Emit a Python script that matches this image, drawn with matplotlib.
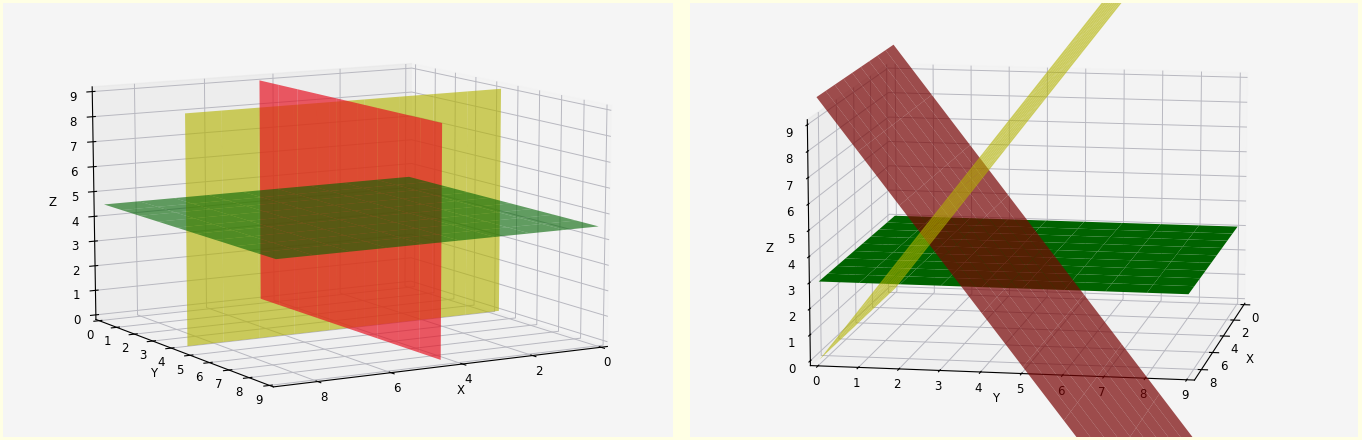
import numpy as np
import matplotlib
matplotlib.use("Agg")
import matplotlib.pyplot as plt
from matplotlib.patches import Rectangle

plt.rcParams["axes3d.automargin"] = True

W, H = 1362, 440

# the grid every plane is sampled on
grid = [0, 1, 2, 3, 4, 5, 6, 7, 8, 9]
plane_mid = [4.5, 4.5, 4.5, 4.5, 4.5, 4.5, 4.5, 4.5, 4.5, 4.5]
wall_z = [0, 9]

# right panel: z over y, the same for every x
plane_flat = [3, 3, 3, 3, 3, 3, 3, 3, 3, 3]
plane_up = [0, 2, 4, 6, 8, 10, 12, 14, 16, 18]
plane_down = [10, 8, 6, 4, 2, 0, -2, -4, -6, -8]

z_ticks = [0, 1, 2, 3, 4, 5, 6, 7, 8, 9]
y_ticks = [0, 1, 2, 3, 4, 5, 6, 7, 8, 9]
x_ticks = [0, 2, 4, 6, 8]

YELLOW = (0.70, 0.70, 0.0)
CRIMSON = (0.90, 0.06, 0.12)
MAROON = (0.47, 0.02, 0.02)
GREEN = (0.0, 0.39, 0.0)


def panel_axes(fig, x0, y0, x1, y1, elev, azim, focal):
    # rectangle in pixels, origin top left; the 3d box is stretched to fill it
    ax = fig.add_axes([x0 / W, 1 - y1 / H, (x1 - x0) / W, (y1 - y0) / H],
                      projection="3d", computed_zorder=False)
    ax.apply_aspect = lambda position=None: None
    ax.patch.set_visible(False)
    ax.view_init(elev=elev, azim=azim)
    ax.set_proj_type("persp", focal_length=focal)
    ax.set_xlim(0, 9)
    ax.set_ylim(0, 9)
    ax.set_zlim(0, 9)
    ax.set_xticks(x_ticks)
    ax.set_yticks(y_ticks)
    ax.set_zticks(z_ticks)
    ax.set_xlabel("X", fontsize=8.5, labelpad=-5)
    ax.set_ylabel("Y", fontsize=8.5, labelpad=-5)
    ax.set_zlabel("Z", fontsize=8.5, labelpad=-4)
    ax.tick_params(labelsize=8.5, pad=-2)
    ax.tick_params(axis="z", pad=0)
    for axis in (ax.xaxis, ax.yaxis, ax.zaxis):
        axis._axinfo["grid"].update(color="#b8b8c0", linewidth=0.7)
    return ax


def add_surface(ax, clip, X, Y, Z, color, alpha, order):
    s = ax.plot_surface(np.asarray(X, dtype=float), np.asarray(Y, dtype=float), np.asarray(Z, dtype=float),
                        color=color, alpha=alpha, shade=False, zorder=order)
    s.set_clip_path(clip)


fig = plt.figure(figsize=(W / 100, H / 100), dpi=100, facecolor="#ffffe4")
panels = []
for x0, x1 in [(3, 673), (690, 1358)]:
    r = Rectangle((x0 / W, 3 / H), (x1 - x0) / W, 434 / H, transform=fig.transFigure,
                  facecolor="#f5f5f5", edgecolor="none", zorder=-1)
    fig.add_artist(r)
    panels.append(r)

ax1 = panel_axes(fig, 46, -28, 632, 472, 11.2, 60, 1.15)
ax2 = panel_axes(fig, 734, -30, 1320, 474, 12, 10, 1.4)

# left: three planes through the middle of the box
Xg, Yg = np.meshgrid(grid, grid)
Xw, Zw = np.meshgrid(grid, wall_z)
add_surface(ax1, panels[0], Xw, np.full_like(Xw, plane_mid[0], dtype=float), Zw, YELLOW, 0.62, 1)
add_surface(ax1, panels[0], np.full_like(Xw, plane_mid[0], dtype=float), Xw, Zw, CRIMSON, 0.68, 2)
add_surface(ax1, panels[0], Xg, Yg, [plane_mid] * 10, GREEN, 0.6, 3)

# right: z = 3 flat, the other two tilted in y
add_surface(ax2, panels[1], Xg, Yg, [plane_flat] * 10, GREEN, 1.0, 1)
add_surface(ax2, panels[1], Xg, Yg, np.array([plane_down] * 10).T, MAROON, 0.7, 2)
add_surface(ax2, panels[1], Xg, Yg, np.array([plane_up] * 10).T, YELLOW, 0.62, 3)

fig.savefig("out.png", dpi=100, facecolor=fig.get_facecolor())
